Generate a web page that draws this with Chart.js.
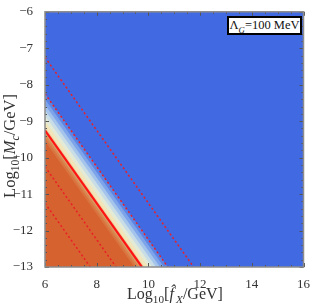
<!DOCTYPE html>
<html lang="es">
<head>
<meta charset="UTF-8">
<title>Contorno</title>
<script src="https://cdn.jsdelivr.net/npm/chart.js"></script>
<style>
    body { margin: 0; background: #fff; }
    .caja { position: relative; width: 312px; height: 307px; font-family: "Liberation Serif", serif; color: #333; }
    .tituloX { position: absolute; left: 45px; width: 260px; top: 285px; text-align: center; font-size: 16px; }
    .tituloY { position: absolute; left: -90px; width: 200px; top: 136px; text-align: center; font-size: 16.5px; transform: rotate(-90deg); }
    .leyenda { position: absolute; left: 227px; top: 16px; width: 71px; height: 15px; border: 2px solid #000; background: #fff; font-size: 12.5px; line-height: 15px; text-align: center; white-space: nowrap; color: #111; }
    sub { font-size: 70%; line-height: 0; }
</style>
</head>
<body>
<div class="caja">
    <canvas id="grafico" width="312" height="307"></canvas>
    <div class="tituloX">Log<sub>10</sub>[<i>f&#770;</i><sub>&thinsp;<i>X</i></sub>/GeV]</div>
    <div class="tituloY">Log<sub>10</sub>[<i>M<sub>c</sub></i>/GeV]</div>
    <div class="leyenda">&Lambda;<sub><i>G</i></sub>=100 MeV</div>
</div>
<script>
    // niveles de Log10 f + Log10 M (lineas de pendiente -1)
    var nivelesBanda = [-2.25, -2.4, -2.55, -2.7, -2.85, -3.0, -3.15, -3.25, -3.35, -3.45, -3.55];
    var coloresBanda = ['#5B84E5', '#7DA4EA', '#A4C4EB', '#C9DDE7', '#E3EAD5', '#F2E5BA', '#EFD3A0', '#DCA06A', '#D8874F', '#D9733F', '#D6622F'];
    var nivelSolida = [-3.25];
    var nivelesPunteadas = [-1.25, -2.25, -4.25, -5.25];
    var marcasX = [6, 8, 10, 12, 14, 16];
    var marcasY = [-13, -12, -11, -10, -9, -8, -7, -6];

    var xMin = 6, xMax = 16, yMin = -13, yMax = -6;

    function linea(c) {
        // extremos: borde izquierdo y borde inferior
        return [{ x: xMin, y: c - xMin }, { x: c - yMin, y: yMin }];
    }

    var datasets = [];
    for (var i = 0; i < nivelesBanda.length; i++) {
        datasets.push({
            data: linea(nivelesBanda[i]),
            borderWidth: 0,
            pointRadius: 0,
            fill: 'start',
            backgroundColor: coloresBanda[i],
            order: 100 - i
        });
    }
    nivelesPunteadas.forEach(function (c) {
        datasets.push({
            data: linea(c),
            borderColor: '#EA1E26',
            borderWidth: 1.5,
            borderDash: [2, 2.5],
            pointRadius: 0,
            fill: false,
            order: 1
        });
    });
    nivelSolida.forEach(function (c) {
        datasets.push({
            data: linea(c),
            borderColor: '#FF1414',
            borderWidth: 2.2,
            pointRadius: 0,
            fill: false,
            order: 0
        });
    });

    var fondo = {
        id: 'fondo',
        beforeDatasetsDraw(chart) {
            var a = chart.chartArea, ctx = chart.ctx;
            ctx.save();
            ctx.fillStyle = '#4169E1';
            ctx.fillRect(a.left, a.top, a.right - a.left, a.bottom - a.top);
            ctx.restore();
        }
    };

    var marco = {
        id: 'marco',
        afterDatasetsDraw(chart) {
            var a = chart.chartArea, ctx = chart.ctx, sx = chart.scales.x, sy = chart.scales.y;
            ctx.save();
            ctx.strokeStyle = '#555';
            ctx.lineWidth = 1;
            ctx.beginPath();
            for (var k = 0; k <= (xMax - xMin) * 2; k++) {
                var v = xMin + k / 2;
                var px = Math.round(sx.getPixelForValue(v)) + 0.5;
                var l = (k % 4 == 0) ? 4 : 2;
                ctx.moveTo(px, a.bottom); ctx.lineTo(px, a.bottom - l);
                ctx.moveTo(px, a.top); ctx.lineTo(px, a.top + l);
            }
            for (var k = 0; k <= (yMax - yMin) * 5; k++) {
                var v = yMin + k / 5;
                var py = Math.round(sy.getPixelForValue(v)) + 0.5;
                var l = (k % 5 == 0) ? 4 : 2;
                ctx.moveTo(a.left, py); ctx.lineTo(a.left + l, py);
                ctx.moveTo(a.right, py); ctx.lineTo(a.right - l, py);
            }
            ctx.stroke();
            ctx.strokeStyle = '#8c8c8c';
            ctx.lineWidth = 1.5;
            ctx.strokeRect(a.left, a.top, a.right - a.left, a.bottom - a.top);
            ctx.restore();
        }
    };

    function menos(v) {
        return String(v).replace('-', '\u2212');
    }

    var ctx = document.getElementById('grafico').getContext('2d');
    var grafico = new Chart(ctx, {
        type: 'scatter',
        data: { datasets: datasets },
        options: {
            responsive: false,
            animation: false,
            showLine: true,
            layout: { padding: { top: 6, right: 7, left: 0, bottom: 0 } },
            plugins: { legend: { display: false }, tooltip: { enabled: false } },
            scales: {
                x: {
                    type: 'linear', min: xMin, max: xMax,
                    afterBuildTicks: function (s) { s.ticks = marcasX.map(function (v) { return { value: v }; }); },
                    afterFit: function (s) { s.height = 40; },
                    grid: { display: false },
                    border: { display: false },
                    ticks: { color: '#333', padding: 2, font: { family: 'Liberation Serif', size: 13 }, callback: menos, maxRotation: 0 }
                },
                y: {
                    type: 'linear', min: yMin, max: yMax,
                    afterBuildTicks: function (s) { s.ticks = marcasY.map(function (v) { return { value: v }; }); },
                    afterFit: function (s) { s.width = 45; },
                    grid: { display: false },
                    border: { display: false },
                    ticks: { color: '#333', padding: 4, font: { family: 'Liberation Serif', size: 13 }, callback: menos }
                }
            }
        },
        plugins: [fondo, marco]
    });
</script>
</body>
</html>
